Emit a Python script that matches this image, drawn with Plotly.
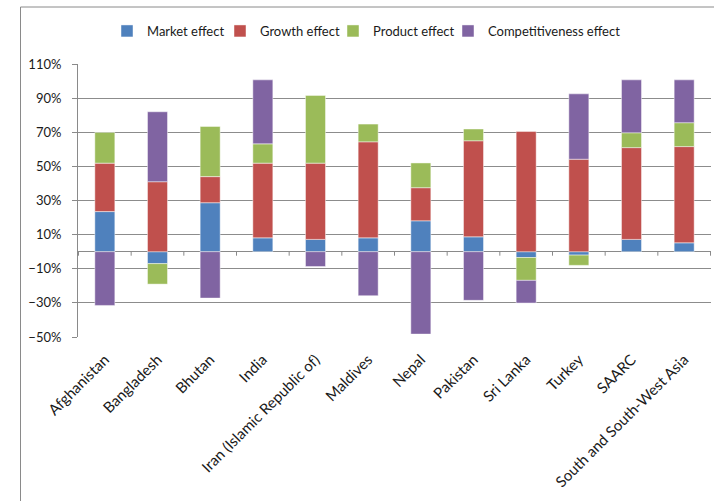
import plotly.graph_objects as go

categories = ["Afghanistan", "Bangladesh", "Bhutan", "India", "Iran (Islamic Republic of)",
              "Maldives", "Nepal", "Pakistan", "Sri Lanka", "Turkey", "SAARC",
              "South and South-West Asia"]
market = [23.5, -7.0, 28.7, 8.1, 7.2, 8.1, 18.1, 8.7, -3.4, -2.0, 7.2, 5.2]
growth = [28.4, 41.0, 15.3, 43.8, 44.7, 56.3, 19.4, 56.3, 70.5, 54.2, 53.8, 56.4]
product = [18.0, -12.0, 29.4, 11.3, 39.7, 10.4, 14.5, 6.9, -13.4, -6.0, 8.7, 14.0]
compet = [-31.5, 41.0, -27.2, 37.5, -8.7, -25.8, -48.3, -28.5, -13.3, 38.3, 31.0, 25.1]

series = [
    ("Market effect", market, "#4F81BD", 68),
    ("Growth effect", growth, "#C0504D", 68),
    ("Product effect", product, "#9BBB59", 70),
    ("Competitiveness effect", compet, "#8064A2", 150),
]

FONT = "Lato"
fig = go.Figure()
for name, vals, col, lw in series:
    fig.add_trace(go.Bar(
        x=categories, y=vals, name=name, legendwidth=lw,
        marker=dict(color=col, line=dict(color="rgba(255,255,255,0.45)", width=1)),
    ))

W, H = 714, 501
L, R, T, B = 78, 3, 64, 164
pw, ph = W - L - R, H - T - B

shapes = []
# outer chart border
shapes.append(dict(type="rect", xref="paper", yref="paper",
                   x0=(20.5 - L) / pw, x1=1.2, y0=-1.0, y1=(H - B - 7) / ph,
                   line=dict(color="#8a8a8a", width=1), fillcolor="rgba(0,0,0,0)", layer="below"))
# category tick marks on the zero line
for i in range(len(categories) + 1):
    shapes.append(dict(type="line", xref="x", yref="y", ysizemode="pixel", yanchor=0,
                       x0=i - 0.5, x1=i - 0.5, y0=0, y1=-4,
                       line=dict(color="#8a8a8a", width=1)))

fig.update_layout(
    width=W, height=H,
    margin=dict(l=L, r=R, t=T, b=B, pad=0),
    paper_bgcolor="white", plot_bgcolor="white",
    barmode="relative", bargap=0.62,
    font=dict(family=FONT, size=13, color="#1a1a1a"),
    showlegend=True,
    legend=dict(orientation="h", x=(107 - L) / pw, xanchor="left",
                y=(H - B - 31) / ph, yanchor="middle",
                font=dict(family=FONT, size=13, color="#1a1a1a"),
                traceorder="normal", entrywidthmode="pixels",
                bgcolor="rgba(0,0,0,0)"),
    shapes=shapes,
)
fig.update_yaxes(range=[-50, 110], tick0=-50, dtick=20, ticksuffix="%",
                 showgrid=True, gridcolor="#8c8c8c", gridwidth=1,
                 zeroline=True, zerolinecolor="#8a8a8a", zerolinewidth=1,
                 showline=True, linecolor="#8a8a8a", linewidth=1,
                 ticks="outside", ticklen=5, tickcolor="#8a8a8a",
                 ticklabelstandoff=8,
                 tickfont=dict(family=FONT, size=13, color="#1a1a1a"))
fig.update_xaxes(tickangle=-45, showline=False, ticks="", showgrid=False,
                 ticklabelstandoff=10,
                 tickfont=dict(family=FONT, size=15, color="#1a1a1a"))

fig.write_html("out.html")
